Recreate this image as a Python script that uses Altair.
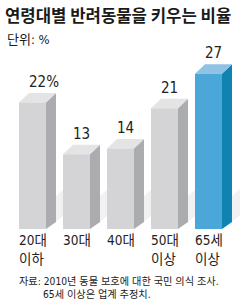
import altair as alt
import pandas as pd

# ---- data ----
categories = ["20대\n이하", "30대", "40대", "50대\n이상", "65세\n이상"]
values = [22, 13, 14, 21, 27]
value_labels = ["22%", "13", "14", "21", "27"]
highlight = [False, False, False, False, True]

title_text = "연령대별 반려동물을 키우는 비율"
unit_text = "단위: %"
source_line1 = "자료: 2010년 동물 보호에 대한 국민 의식 조사."
source_line2 = "65세 이상은 업계 추정치."

# ---- styling / geometry (not data) ----
W, H = 240, 308
PX_PER_UNIT = 5.75
ZERO_PX = 229
BAR_STEP = 44.0
FIRST_CENTER = 32.5
HALF_W = 13.5 / BAR_STEP
DEPTH_X = 10 / BAR_STEP
DEPTH_TOP = 9.5 / PX_PER_UNIT
DEPTH_BOT = 7 / PX_PER_UNIT
LABEL_GAP = 15.5 / PX_PER_UNIT
LABEL_DX = -3.5 / BAR_STEP
SHADOW_W = 8 / BAR_STEP
SHADOW_H = 26 / PX_PER_UNIT

x_domain = [(0 - FIRST_CENTER) / BAR_STEP, (W - FIRST_CENTER) / BAR_STEP]
y_domain = [(ZERO_PX - H) / PX_PER_UNIT, ZERO_PX / PX_PER_UNIT]

GRAY = {"front": "#d4d4d6", "side": "#abacaf", "top": "#e4e4e5"}
BLUE = {"front": "#4ba7d8", "side": "#1183b0", "top": "#8fc2e4"}
SHADOW = "#f1f1f1"

FONT = "Liberation Sans Narrow, DejaVu Sans Condensed, Noto Sans CJK KR, sans-serif"

front_rows, side_rows, top_rows, shadow_rows, label_rows = [], [], [], [], []
for i, (cat, v, lab, hl) in enumerate(zip(categories, values, value_labels, highlight)):
    pal = BLUE if hl else GRAY
    x0, x1 = i - HALF_W, i + HALF_W
    front_rows.append(dict(bar=i, x=x0, x2=x1, y=0, y2=v, fill=pal["front"]))
    side_rows += [
        dict(bar=i, x=x1, y=v, y2=0, fill=pal["side"]),
        dict(bar=i, x=x1 + DEPTH_X, y=v + DEPTH_TOP, y2=DEPTH_BOT, fill=pal["side"]),
    ]
    top_rows += [
        dict(bar=i, x=x0, y=v, y2=v, fill=pal["top"]),
        dict(bar=i, x=x0 + DEPTH_X, y=v, y2=v + DEPTH_TOP, fill=pal["top"]),
        dict(bar=i, x=x1, y=v, y2=v + DEPTH_TOP, fill=pal["top"]),
        dict(bar=i, x=x1 + DEPTH_X, y=v + DEPTH_TOP, y2=v + DEPTH_TOP, fill=pal["top"]),
    ]
    sx = x1 + DEPTH_X
    shadow_rows += [
        dict(bar=i, x=sx, y=DEPTH_BOT + SHADOW_H, y2=DEPTH_BOT),
        dict(bar=i, x=sx + SHADOW_W, y=DEPTH_BOT + SHADOW_H + 1.2, y2=DEPTH_BOT + 1.2),
    ]
    label_rows.append(dict(bar=i, x=i + LABEL_DX, xl=x0, y=v + LABEL_GAP, label=lab, cat=cat))

front = pd.DataFrame(front_rows)
side = pd.DataFrame(side_rows)
top = pd.DataFrame(top_rows)
shadow = pd.DataFrame(shadow_rows)
labels = pd.DataFrame(label_rows)

xs = alt.Scale(domain=x_domain, nice=False, zero=False)
ys = alt.Scale(domain=y_domain, nice=False, zero=False)

shadow_layer = alt.Chart(shadow).mark_area(interpolate="linear", color=SHADOW).encode(
    x=alt.X("x:Q", scale=xs, axis=None),
    y=alt.Y("y:Q", scale=ys, axis=None),
    y2="y2:Q",
    detail="bar:N",
)

front_layer = alt.Chart(front).mark_bar(strokeWidth=0).encode(
    x=alt.X("x:Q", scale=xs, axis=None),
    x2="x2:Q",
    y=alt.Y("y:Q", scale=ys, axis=None),
    y2="y2:Q",
    fill=alt.Fill("fill:N", scale=None),
)

side_layer = alt.Chart(side).mark_area(interpolate="linear").encode(
    x=alt.X("x:Q", scale=xs, axis=None),
    y=alt.Y("y:Q", scale=ys, axis=None),
    y2="y2:Q",
    detail="bar:N",
    fill=alt.Fill("fill:N", scale=None),
)

top_layer = alt.Chart(top).mark_area(interpolate="linear").encode(
    x=alt.X("x:Q", scale=xs, axis=None),
    y=alt.Y("y:Q", scale=ys, axis=None),
    y2="y2:Q",
    detail="bar:N",
    fill=alt.Fill("fill:N", scale=None),
)

value_text = alt.Chart(labels).mark_text(
    align="left", baseline="alphabetic", font=FONT, fontSize=15, color="#222222"
).encode(
    x=alt.X("x:Q", scale=xs, axis=None),
    y=alt.Y("y:Q", scale=ys, axis=None),
    text="label:N",
)

cat_text = alt.Chart(labels).mark_text(
    align="left", baseline="alphabetic", font=FONT, fontSize=13.5,
    lineBreak="\n", lineHeight=19, color="#222222"
).encode(
    x=alt.X("xl:Q", scale=xs, axis=None),
    y=alt.value(245),
    text="cat:N",
)

def note(text, x, y, size, weight="normal", font=FONT):
    return alt.Chart(pd.DataFrame({"t": [text]})).mark_text(
        align="left", baseline="alphabetic", font=font, fontSize=size,
        fontWeight=weight, color="#1a1a1a"
    ).encode(x=alt.value(x), y=alt.value(y), text="t:N")

title_layer = note(title_text, 5, 21.5, 16.7, "bold", "Noto Sans CJK KR, sans-serif")
unit_layer = note(unit_text, 7, 44, 13)
src1 = note(source_line1, 19, 285, 10.2)
src2 = note(source_line2, 43, 298, 10.2)

chart = alt.layer(
    shadow_layer, side_layer, top_layer, front_layer, value_text, cat_text,
    title_layer, unit_layer, src1, src2
).properties(
    width=W, height=H, autosize=alt.AutoSizeParams(type="none"), padding=0,
    background="white"
).configure_view(stroke=None)

chart.save("out.html", embed_options={"renderer": "svg", "actions": False})
